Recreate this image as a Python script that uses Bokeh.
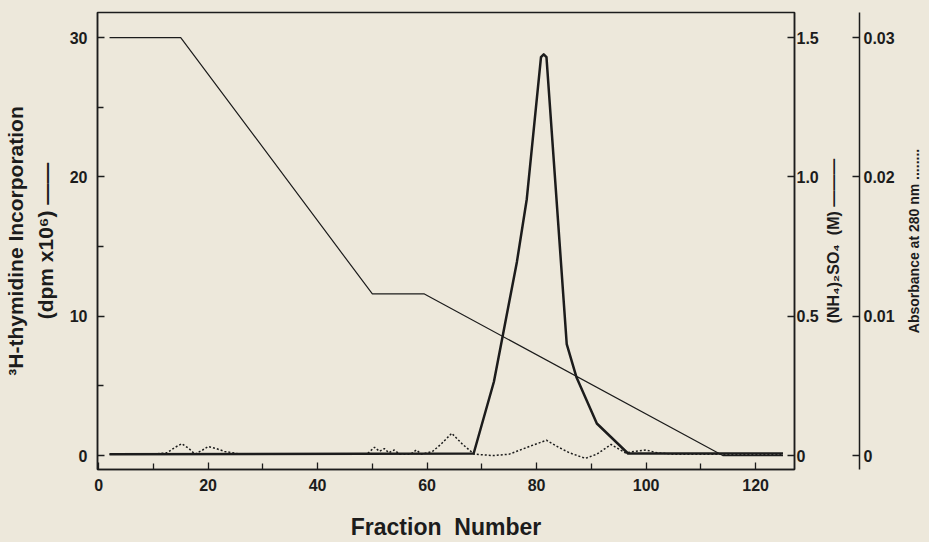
from bokeh.plotting import figure
from bokeh.models import Range1d, LinearAxis, FixedTicker, Grid
from bokeh.layouts import row
from bokeh.embed import file_html
from bokeh.resources import INLINE

# ---- data ----
thy_fraction = [2, 68.5, 72.2, 76.4, 78.2, 80.8, 81.3, 81.8, 85.5, 87.3, 91.0, 96.7, 125]
thy_dpm = [0.1, 0.15, 5.3, 13.9, 18.4, 28.6, 28.8, 28.6, 8.0, 5.6, 2.3, 0.15, 0.15]

salt_fraction = [2, 15, 50, 59.5, 114, 125]
salt_molar = [1.5, 1.5, 0.58, 0.58, 0.0, 0.0]

abs_fraction = [2, 10, 12.5, 14, 15.2, 16.5, 17.6, 19, 20, 21.5, 23, 26, 40, 49, 50.4, 51.3,
                52.2, 53, 54, 55, 57, 58, 59, 61, 62.5, 64.5, 66.5, 68.6, 72, 75, 77, 79,
                81.8, 84, 86, 88.9, 91, 93.6, 96.2, 98, 100, 102, 105, 125]
abs_280 = [0.0001, 0.0001, 0.0002, 0.0006, 0.00085, 0.0005, 0.0001, 0.0004, 0.00065, 0.0005,
           0.0003, 0.0001, 0.0001, 0.0001, 0.0006, 0.0003, 0.0005, 0.0002, 0.0004, 0.0001,
           0.0001, 0.0004, 0.0001, 0.0003, 0.0008, 0.0016, 0.0008, 0.0001, 0.0, 0.0001,
           0.0004, 0.0007, 0.0011, 0.0006, 0.0002, -0.0002, 0.0001, 0.0008, 0.0002, 0.0003,
           0.0004, 0.0002, 0.0001, 0.0001]

x_ticks = [0, 20, 40, 60, 80, 100, 120]
x_minor = [10, 30, 50, 70, 90, 110]
left_ticks = [0, 10, 20, 30]
left_minor = [5, 15, 25]
salt_ticks = [0, 0.5, 1.0, 1.5]
salt_tick_labels = {0: "0", 0.5: "0.5", 1.0: "1.0", 1.5: "1.5"}
abs_ticks = [0, 0.01, 0.02, 0.03]
abs_tick_labels = {0: "0", 0.01: "0.01", 0.02: "0.02", 0.03: "0.03"}

salt_title = "(NH₄)₂SO₄\u00a0\u00a0(M) ———"
abs_title = "Absorbance at 280 nm ........"

BG = "#ede8db"
INK = "#1c1c1c"
FONT = "Liberation Sans"
ABS_RANGE = (-0.001, 0.0318)
TOP, BOTTOM = 12, 72


def base_fig(width, **kw):
    f = figure(width=width, height=542, output_backend="svg", toolbar_location=None,
               min_border_top=TOP, min_border_bottom=BOTTOM, **kw)
    f.background_fill_color = BG
    f.border_fill_color = BG
    f.outline_line_color = None
    for g in f.select(type=Grid):
        g.visible = False
    return f


def style(ax, size="16px"):
    ax.axis_line_color = INK
    ax.axis_line_width = 1.5
    ax.major_tick_line_color = INK
    ax.minor_tick_line_color = INK
    ax.major_tick_line_width = 1.3
    ax.minor_tick_line_width = 1.3
    ax.major_tick_out = 0
    ax.minor_tick_out = 0
    ax.major_tick_in = 7
    ax.minor_tick_in = 6
    ax.major_label_text_font = FONT
    ax.major_label_text_font_style = "bold"
    ax.major_label_text_font_size = size
    ax.major_label_text_color = INK
    ax.axis_label_text_font = FONT
    ax.axis_label_text_font_style = "bold"
    ax.axis_label_text_color = INK


def title_only_axis(text, size, standoff):
    ax = LinearAxis(ticker=FixedTicker(ticks=[], minor_ticks=[]))
    style(ax)
    ax.axis_line_color = None
    ax.major_tick_in = 0
    ax.minor_tick_in = 0
    ax.major_label_standoff = 0
    ax.axis_label = text
    ax.axis_label_text_font_size = size
    ax.axis_label_standoff = standoff
    return ax


# ---------------- main panel ----------------
p = base_fig(821, x_range=Range1d(-0.2, 127.1), y_range=Range1d(-1.0, 31.8),
             min_border_left=97, min_border_right=24)
p.outline_line_color = INK
p.outline_line_width = 1.5
p.extra_y_ranges = {"salt": Range1d(-0.05, 1.59), "abs": Range1d(*ABS_RANGE)}

xa = p.xaxis[0]
style(xa)
xa.ticker = FixedTicker(ticks=x_ticks, minor_ticks=x_minor)
xa.major_label_standoff = 9
xa.axis_label = "Fraction\u00a0\u00a0Number"
xa.axis_label_text_font_size = "23px"
xa.axis_label_text_line_height = 1.0
xa.axis_label_standoff = 20

ya = p.yaxis[0]
style(ya)
ya.ticker = FixedTicker(ticks=left_ticks, minor_ticks=left_minor)
ya.major_label_standoff = 10
ya.axis_label = "³H-thymidine Incorporation\n(dpm x10⁶) ——"
ya.axis_label_text_font_size = "21px"
ya.axis_label_text_line_height = 1.3
ya.axis_label_standoff = 10

salt_axis = LinearAxis(y_range_name="salt", ticker=FixedTicker(ticks=salt_ticks, minor_ticks=[]))
style(salt_axis)
salt_axis.major_label_standoff = 2
salt_axis.major_label_overrides = salt_tick_labels
p.add_layout(salt_axis, "right")

p.line(salt_fraction, [v * 20 for v in salt_molar], line_color=INK, line_width=1.2)
p.line(abs_fraction, abs_280, y_range_name="abs", line_color=INK, line_width=1.5, line_dash="2 2")
p.line(thy_fraction, thy_dpm, line_color=INK, line_width=2.5, line_join="round")

# ---------------- (NH4)2SO4 title strip ----------------
p_salt = base_fig(26, x_range=Range1d(0, 1), y_range=Range1d(0, 1),
                  x_axis_location=None, y_axis_location=None,
                  min_border_left=19, min_border_right=0)
p_salt.add_layout(title_only_axis(salt_title, "16px", 0), "left")

# ---------------- absorbance axis ----------------
p_abs = base_fig(50, x_range=Range1d(0, 1), y_range=Range1d(*ABS_RANGE),
                 x_axis_location=None, y_axis_location="right",
                 min_border_left=0, min_border_right=35)
aa = p_abs.yaxis[0]
style(aa)
aa.ticker = FixedTicker(ticks=abs_ticks, minor_ticks=[])
aa.major_label_standoff = 4
aa.major_label_overrides = abs_tick_labels

# ---------------- absorbance title strip ----------------
p_abs_t = base_fig(32, x_range=Range1d(0, 1), y_range=Range1d(0, 1),
                   x_axis_location=None, y_axis_location=None,
                   min_border_left=28, min_border_right=0)
p_abs_t.add_layout(title_only_axis(abs_title, "14px", 4), "left")

layout = row(p, p_salt, p_abs, p_abs_t, spacing=0, styles={"background-color": BG})
open("out.html", "w").write(file_html(layout, INLINE))
